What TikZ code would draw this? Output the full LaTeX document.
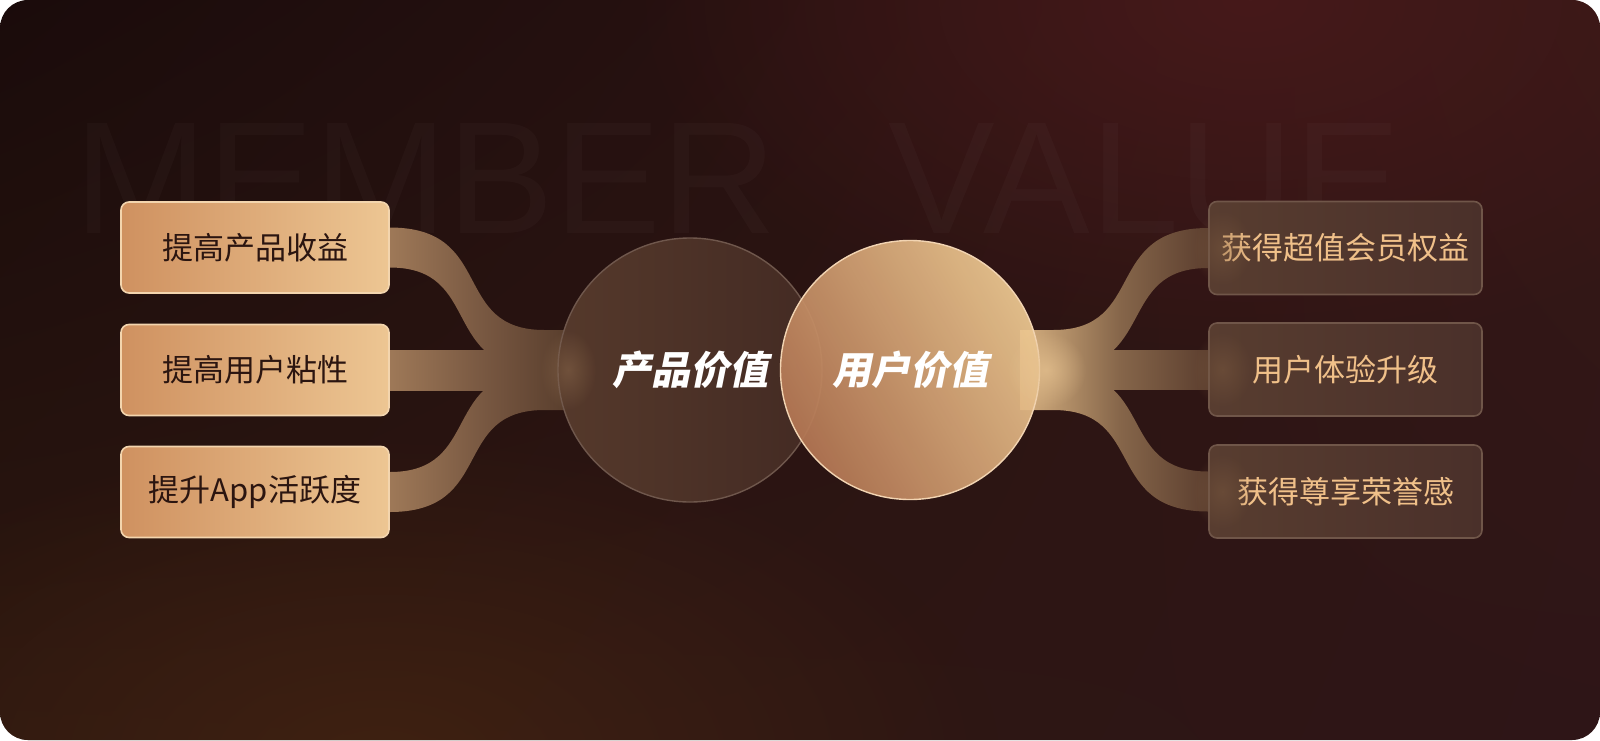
\documentclass[tikz,border=0pt]{standalone}
\usepackage{fontspec}
\setmainfont{Liberation Sans}
\newfontfamily\cjk{Noto Sans CJK SC}
\newfontfamily\cjkbi{Noto Sans CJK SC}[FakeSlant=0.2]
\usetikzlibrary{calc,fadings,shadings}
\pgfdeclarelayer{bg}\pgfdeclarelayer{rib}\pgfsetlayers{bg,rib,main}
\definecolor{bgTL}{HTML}{1A0B0B}
\definecolor{bgTR}{HTML}{351816}
\definecolor{bgBL}{HTML}{2C170F}
\definecolor{bgBR}{HTML}{2E1517}
\definecolor{glowRed}{HTML}{46191A}
\definecolor{glowBrown}{HTML}{3F2112}
\definecolor{ribL1}{HTML}{A27C5A}
\definecolor{ribLm}{HTML}{765640}
\definecolor{ribL2}{HTML}{4E3526}
\definecolor{ribR1}{HTML}{D6B080}
\definecolor{ribRm}{HTML}{86664A}
\definecolor{ribR2}{HTML}{573A2C}
\definecolor{lbox1}{HTML}{CF9160}
\definecolor{lbox2}{HTML}{EDC693}
\definecolor{lboxB}{HTML}{F3D5AE}
\definecolor{lboxT}{HTML}{2B1510}
\definecolor{rbox1}{HTML}{583D30}
\definecolor{rbox2}{HTML}{4A302A}
\definecolor{rboxB}{HTML}{705649}
\definecolor{rboxT}{HTML}{F0C089}
\definecolor{pc1}{HTML}{55392B}
\definecolor{pc2}{HTML}{432A23}
\definecolor{pcB}{HTML}{6F574C}
\definecolor{uc1}{HTML}{B47754}
\definecolor{uc2}{HTML}{EDC891}
\definecolor{ucB}{HTML}{F2D4B2}
\definecolor{glowL}{HTML}{8C6A4C}
\definecolor{glowR}{HTML}{E6C290}
\definecolor{glowBox}{HTML}{7E5C40}
\tikzfading[name=glowfade, inner color=transparent!0, outer color=transparent!100]
\tikzset{
  lbox/.style={rectangle, rounded corners=4pt, minimum width=134pt, minimum height=45.5pt,
    left color=lbox1, right color=lbox2, draw=lboxB, line width=0.8pt, text=lboxT,
    font=\cjk\fontsize{15.5}{18}\selectfont, inner sep=0pt},
  rbox/.style={rectangle, rounded corners=4pt, minimum width=136.5pt, minimum height=46.5pt,
    left color=rbox1, right color=rbox2, draw=rboxB, line width=0.8pt, text=rboxT,
    font=\cjk\fontsize{15.5}{18}\selectfont, inner sep=0pt},
  ctext/.style={text=white, font=\cjkbi\bfseries\fontsize{19.5}{22}\selectfont, inner sep=0pt},
  ribleft/.style={left color=ribL1, right color=ribL2, middle color=ribLm},
  ribright/.style={left color=ribR1, right color=ribR2, middle color=ribRm},
  wmark/.style={anchor=base west, inner sep=0pt, text=white, text opacity=0.022,
    font=\fontsize{80}{80}\selectfont},
  glow/.style={path fading=glowfade}
}
\begin{document}
\begin{tikzpicture}[x=0.5pt,y=-0.5pt]
\useasboundingbox (0,0) rectangle (1600,740);

% nodes (main layer)
\node[lbox] (l1) at (255,247.5) {提高产品收益};
\node[lbox] (l2) at (255,370) {提高用户粘性};
\node[lbox] (l3) at (255,492) {提升App活跃度};
\node[rbox] (r1) at (1345.5,248) {获得超值会员权益};
\node[rbox] (r2) at (1345.5,369.5) {用户体验升级};
\node[rbox] (r3) at (1345.5,491.5) {获得尊享荣誉感};
\node[circle, minimum size=132pt, inner sep=0pt, draw=pcB, line width=0.7pt,
  left color=pc1, right color=pc2] (pc) at (690,370) {};
\fill[glowL, glow, fill opacity=0.5] (568,370) ellipse (28 and 40);
\node[ctext] (pct) at (pc) {产品价值};
\node[circle, minimum size=129.5pt, inner sep=0pt, draw=ucB, line width=0.7pt,
  left color=uc1, right color=uc2, shading angle=120, fill opacity=0.93] (uc) at (910,370) {};
\node[ctext] (uct) at (uc) {用户价值};
\fill[glowR, glow, fill opacity=0.7] (1046,370) ellipse (40 and 38);
\foreach \b in {r1,r2,r3}{
  \fill[glowBox, glow, fill opacity=0.45] ($(\b.west)+(14,0)$) ellipse (30 and 38);
}

% background
\begin{pgfonlayer}{bg}
\fill[white] (0,0) rectangle (1600,740);
\begin{scope}
\clip[rounded corners=14pt] (0,0) rectangle (1600,740);
\shade[upper left=bgTL, upper right=bgTR, lower left=bgBL, lower right=bgBR] (0,0) rectangle (1600,740);
\fill[glowRed, glow] (1250,0) ellipse (620 and 360);
\fill[glowBrown, glow] (380,760) ellipse (620 and 330);
\node[wmark] (wm1) at (74,233) {MEMBER};
\node[wmark] (wm2) at (888,233) {VALUE};
\end{scope}
\end{pgfonlayer}

% ribbons
\begin{pgfonlayer}{rib}
\coordinate (E) at (pc.west);
\coordinate (F) at (uc.east);
\shade[ribleft] ($(l2.east)+(-10,-20)$) rectangle ($(E)+(40,20)$);
\shade[ribleft] ($(l1.east)+(-10,-20)$) -- ($(l1.east)+(0,-20)$)
  .. controls ($(l1.east)+(106,-20)$) and ($(E)+(-107,-40)$) .. ($(E)+(-13,-40)$)
  -- ($(E)+(40,-40)$) -- ($(E)+(40,0)$) -- ($(E)+(-13,0)$)
  .. controls ($(E)+(-119,0)$) and ($(l1.east)+(94,20)$) .. ($(l1.east)+(0,20)$)
  -- ($(l1.east)+(-10,20)$) -- cycle;
\shade[ribleft] ($(l3.east)+(-10,20)$) -- ($(l3.east)+(0,20)$)
  .. controls ($(l3.east)+(106,20)$) and ($(E)+(-107,40)$) .. ($(E)+(-13,40)$)
  -- ($(E)+(40,40)$) -- ($(E)+(40,0)$) -- ($(E)+(-13,0)$)
  .. controls ($(E)+(-119,0)$) and ($(l3.east)+(94,-20)$) .. ($(l3.east)+(0,-20)$)
  -- ($(l3.east)+(-10,-20)$) -- cycle;
\shade[ribright] ($(F)+(-20,-20)$) rectangle ($(r2.west)+(10,20)$);
\shade[ribright] ($(r1.west)+(10,-20)$) -- ($(r1.west)+(0,-20)$)
  .. controls ($(r1.west)+(-106,-20)$) and ($(F)+(107,-40)$) .. ($(F)+(13,-40)$)
  -- ($(F)+(-20,-40)$) -- ($(F)+(-20,0)$) -- ($(F)+(13,0)$)
  .. controls ($(F)+(119,0)$) and ($(r1.west)+(-94,20)$) .. ($(r1.west)+(0,20)$)
  -- ($(r1.west)+(10,20)$) -- cycle;
\shade[ribright] ($(r3.west)+(10,20)$) -- ($(r3.west)+(0,20)$)
  .. controls ($(r3.west)+(-106,20)$) and ($(F)+(107,40)$) .. ($(F)+(13,40)$)
  -- ($(F)+(-20,40)$) -- ($(F)+(-20,0)$) -- ($(F)+(13,0)$)
  .. controls ($(F)+(119,0)$) and ($(r3.west)+(-94,-20)$) .. ($(r3.west)+(0,-20)$)
  -- ($(r3.west)+(10,-20)$) -- cycle;
\end{pgfonlayer}
\end{tikzpicture}
\end{document}
